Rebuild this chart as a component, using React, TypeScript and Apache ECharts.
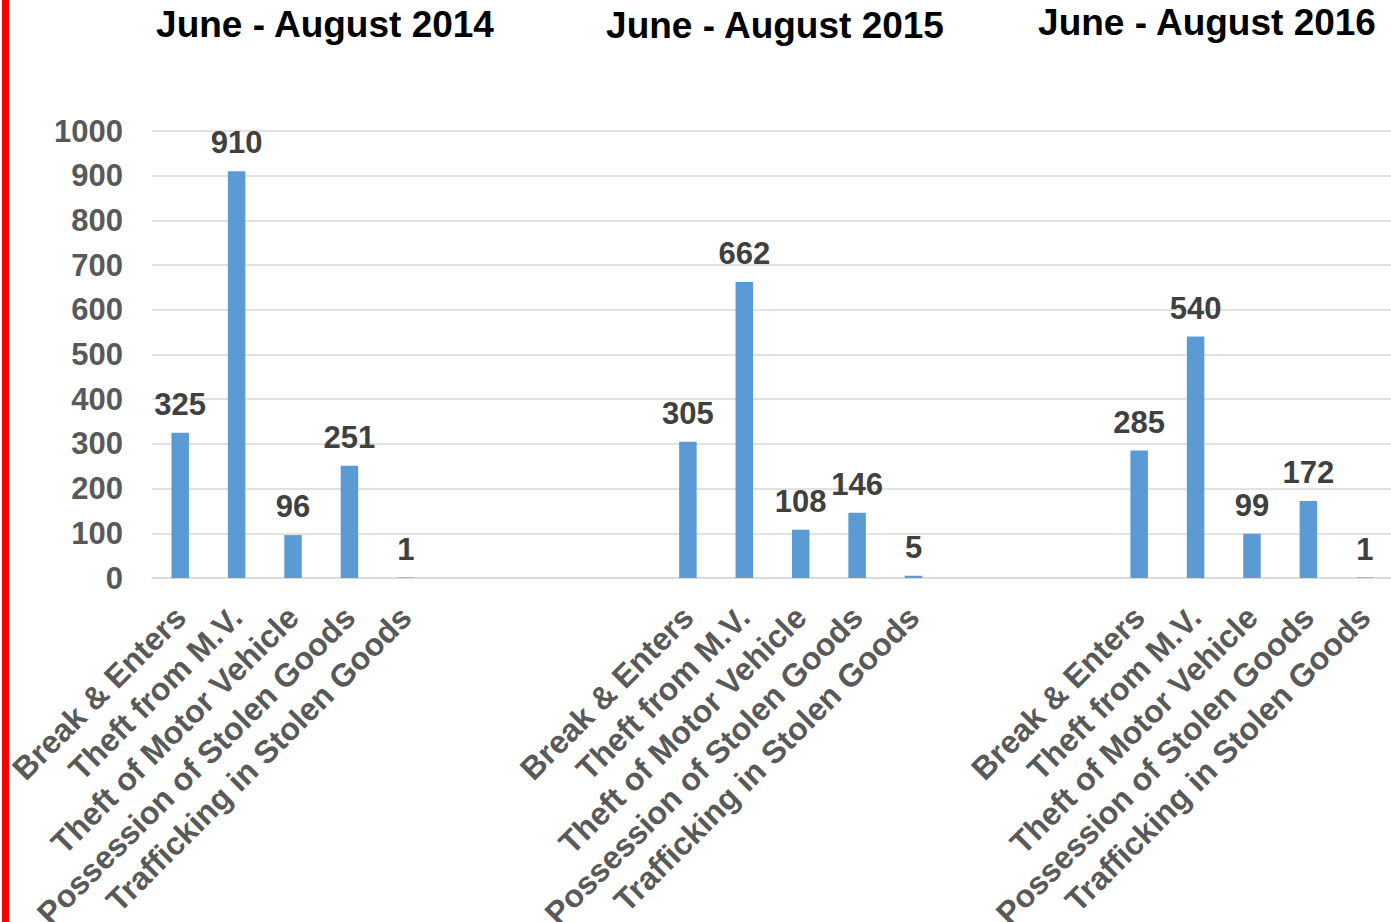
import React, { useEffect, useRef } from "react";
import * as echarts from "echarts";

const crimeTypes = [
  "Break & Enters",
  "Theft from M.V.",
  "Theft of Motor Vehicle",
  "Possession of Stolen Goods",
  "Trafficking in Stolen Goods",
];
const periodTitles = ["June - August 2014", "June - August 2015", "June - August 2016"];
const values2014 = [325, 910, 96, 251, 1];
const values2015 = [305, 662, 108, 146, 5];
const values2016 = [285, 540, 99, 172, 1];
const gapAfter2014 = 4;
const gapAfter2015 = 3;
const yTicks = [0, 1000, 100];

export default function App() {
  const ref = useRef<HTMLDivElement>(null);
  useEffect(() => {
    if (!ref.current) return;
    const chart = echarts.init(ref.current, null, { renderer: "svg" });
    const cats: string[] = [];
    const vals: (number | string)[] = [];
    const push = (v: number[]) => {
      crimeTypes.forEach((c, i) => {
        cats.push(c);
        vals.push(v[i]);
      });
    };
    const gap = (n: number) => {
      for (let i = 0; i < n; i++) {
        cats.push("");
        vals.push("-");
      }
    };
    push(values2014);
    gap(gapAfter2014);
    push(values2015);
    gap(gapAfter2015);
    push(values2016);

    const font = "'Liberation Sans', Arial, sans-serif";
    const titlePos = [
      [325, 24],
      [775, 25],
      [1207, 22.5],
    ];
    chart.setOption({
      animation: false,
      backgroundColor: "#ffffff",
      textStyle: { fontFamily: font },
      grid: {
        left: 152,
        right: -2,
        top: 131,
        bottom: 344,
        containLabel: false,
        outerBoundsMode: "none",
      },
      xAxis: {
        type: "category",
        data: cats,
        axisLine: { show: true, lineStyle: { color: "#d9d9d9", width: 1.5 } },
        axisTick: { show: false },
        axisLabel: {
          interval: 0,
          rotate: 45,
          margin: 34,
          color: "#595959",
          fontWeight: "bold",
          fontSize: 32,
          fontFamily: font,
        },
      },
      yAxis: {
        type: "value",
        min: yTicks[0],
        max: yTicks[1],
        interval: yTicks[2],
        axisLine: { show: false },
        axisTick: { show: false },
        splitLine: { lineStyle: { color: "#d9d9d9", width: 1.5 } },
        axisLabel: {
          margin: 29,
          color: "#595959",
          fontWeight: "bold",
          fontSize: 31,
          fontFamily: font,
          formatter: (v: number) => String(v),
        },
      },
      series: [
        {
          type: "bar",
          data: vals,
          barWidth: 17.5,
          itemStyle: { color: "#5b9bd5" },
          label: {
            show: true,
            position: "top",
            distance: 13,
            color: "#404040",
            fontWeight: "bold",
            fontSize: 31,
            fontFamily: font,
          },
        },
      ],
      graphic: [
        {
          type: "rect",
          shape: { x: 2, y: 0, width: 7, height: 922 },
          style: { fill: "#ff0000" },
          silent: true,
        },
        ...periodTitles.map((t, i) => ({
          type: "text",
          x: titlePos[i][0],
          y: titlePos[i][1],
          style: {
            text: t,
            fill: "#000000",
            font: `bold 37px ${font}`,
            textAlign: "center",
            textVerticalAlign: "middle",
          },
        })),
      ],
    });
    return () => chart.dispose();
  }, []);
  return (
    <div
      ref={ref}
      style={{ position: "fixed", left: 0, top: 0, width: 1391, height: 922, background: "#fff" }}
    />
  );
}
